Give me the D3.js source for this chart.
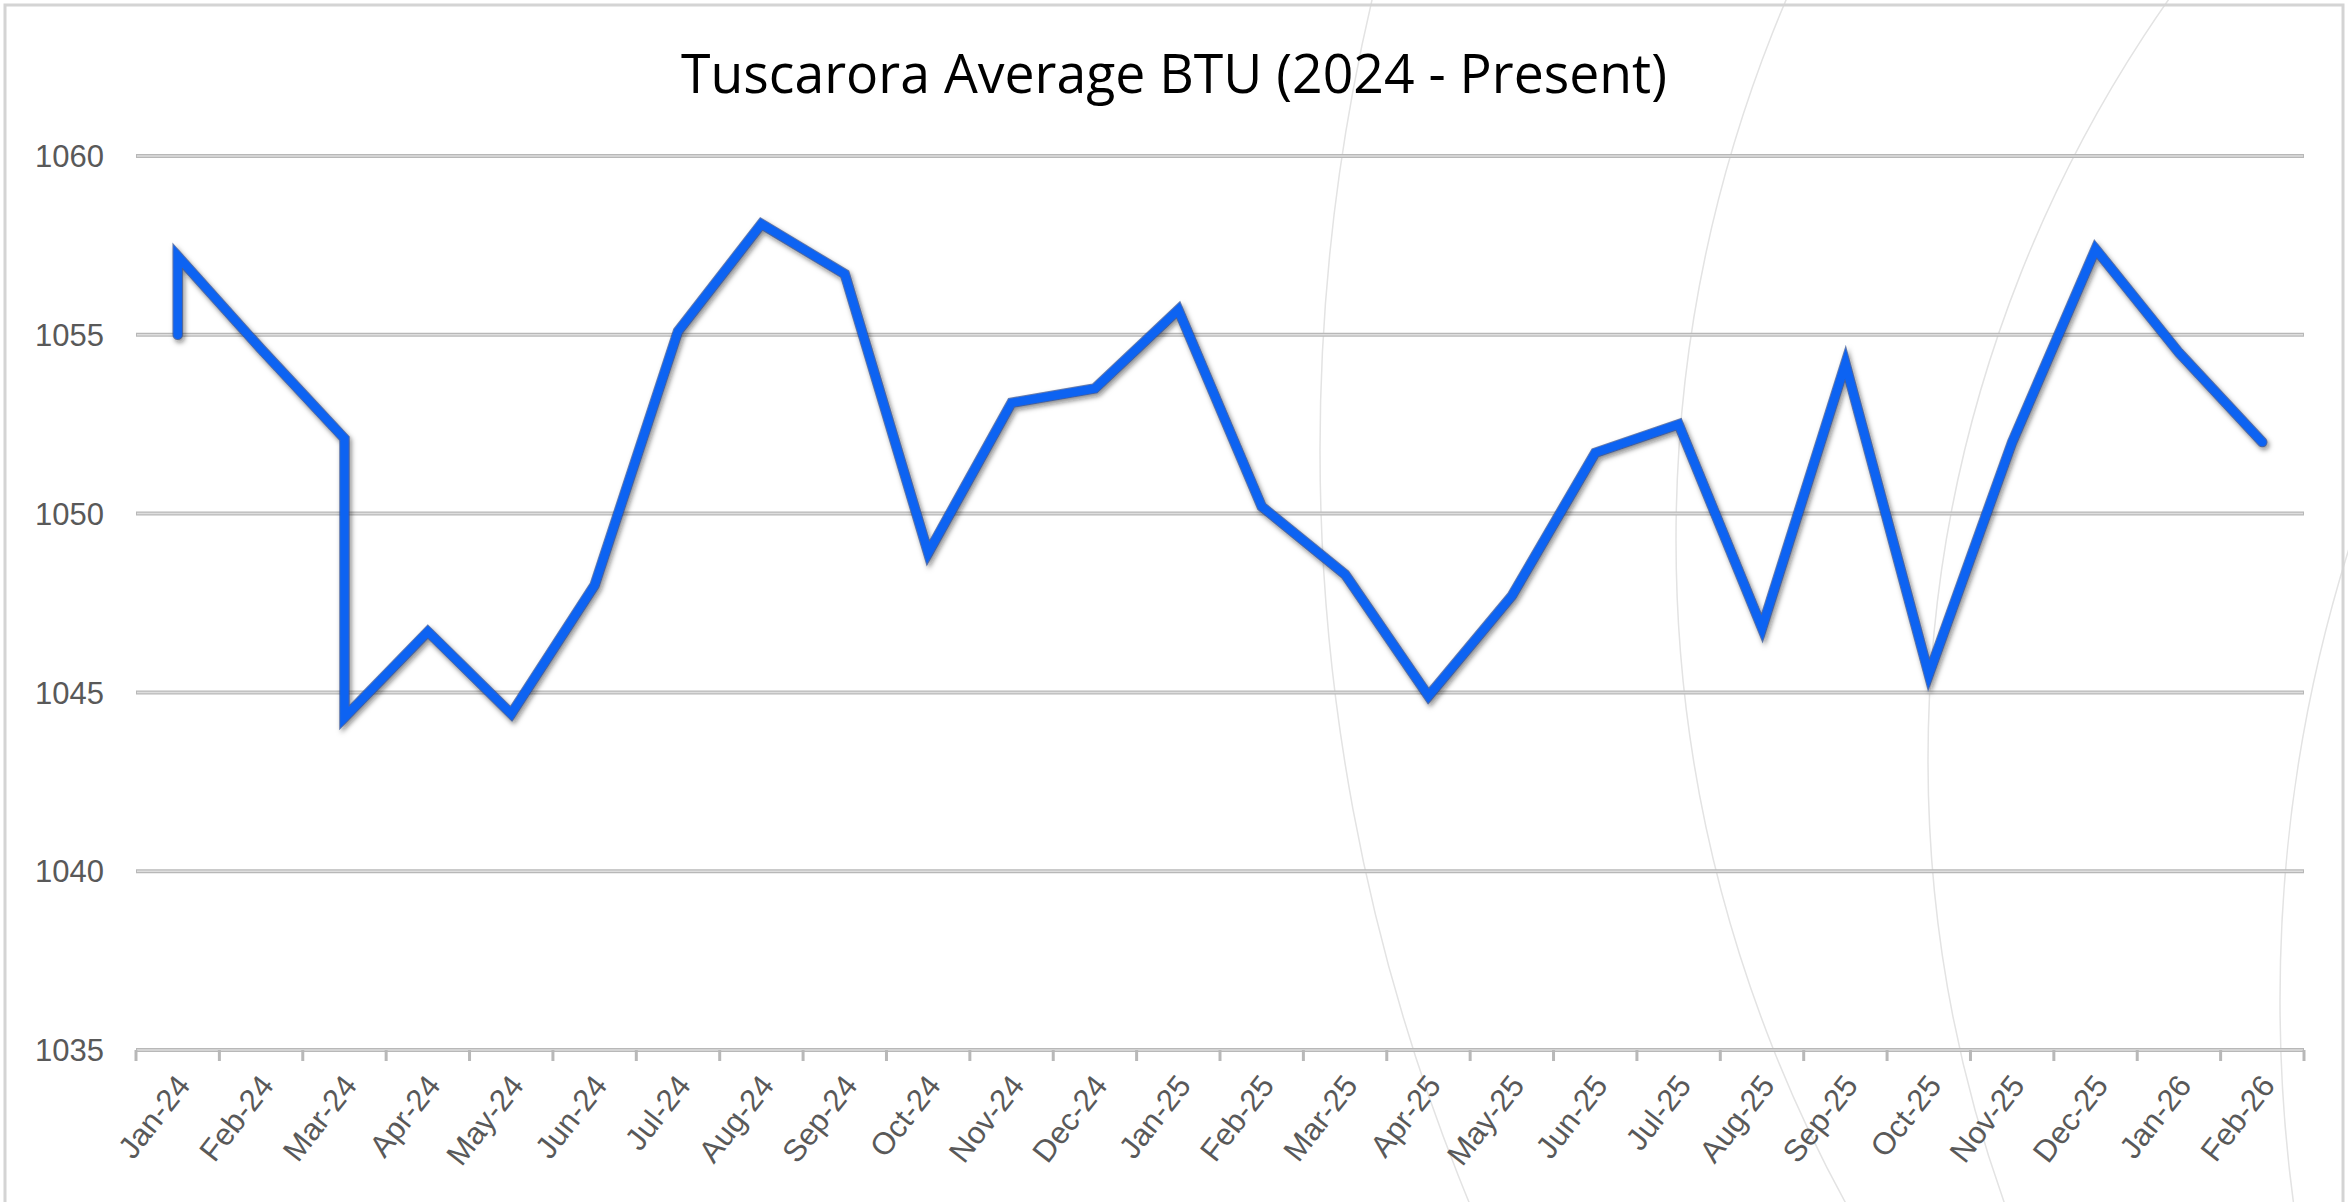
<!DOCTYPE html>
<html>
<head>
<meta charset="utf-8">
<script src="https://cdn.jsdelivr.net/npm/d3@7"></script>
<style>
  html, body { margin: 0; padding: 0; background: #fff; }
  svg { display: block; }
  .title { font-family: "Open Sans", "Noto Sans", sans-serif; fill: #000; }
  .axis-label { font-family: "Liberation Sans", Arial, sans-serif; fill: #595959; }
</style>
</head>
<body>
<svg class="chart"></svg>
<script>
(function () {
  "use strict";

  const TITLE = "Tuscarora Average BTU (2024 - Present)";

  const monthLabels = [
    "Jan-24", "Feb-24", "Mar-24", "Apr-24", "May-24", "Jun-24", "Jul-24", "Aug-24",
    "Sep-24", "Oct-24", "Nov-24", "Dec-24", "Jan-25", "Feb-25", "Mar-25", "Apr-25",
    "May-25", "Jun-25", "Jul-25", "Aug-25", "Sep-25", "Oct-25", "Nov-25", "Dec-25",
    "Jan-26", "Feb-26"
  ];

  // two readings land in Jan-24 and Mar-24, so those months repeat
  const pointMonths = [
    "Jan-24", "Jan-24", "Feb-24", "Mar-24", "Mar-24", "Apr-24", "May-24", "Jun-24",
    "Jul-24", "Aug-24", "Sep-24", "Oct-24", "Nov-24", "Dec-24", "Jan-25", "Feb-25",
    "Mar-25", "Apr-25", "May-25", "Jun-25", "Jul-25", "Aug-25", "Sep-25", "Oct-25",
    "Nov-25", "Dec-25", "Jan-26", "Feb-26"
  ];
  const pointValues = [
    1055.0, 1057.2, 1054.6, 1052.1, 1044.3, 1046.7, 1044.4, 1048.0,
    1055.1, 1058.1, 1056.7, 1048.9, 1053.1, 1053.5, 1055.7, 1050.2,
    1048.3, 1044.9, 1047.7, 1051.7, 1052.5, 1046.8, 1054.2, 1045.5,
    1052.0, 1057.4, 1054.5, 1052.0
  ];

  const yTicks = [1035, 1040, 1045, 1050, 1055, 1060];

  function render() {
    const W = 2348, H = 1202;
    const svg = d3.select(".chart").attr("width", W).attr("height", H);

    const defs = svg.append("defs");
    const shadow = defs.append("filter").attr("id", "lineShadow")
      .attr("x", "-5%").attr("y", "-5%").attr("width", "110%").attr("height", "110%");
    shadow.append("feDropShadow")
      .attr("dx", 2).attr("dy", 3).attr("stdDeviation", 2.5)
      .attr("flood-color", "#111").attr("flood-opacity", 0.5);

    svg.append("rect").attr("width", W).attr("height", H).attr("fill", "#fff");

    // faint decorative arcs of the chart style
    const arcs = [
      { cx: 3293, cy: 450, r: 1973 },
      { cx: 3056, cy: 540, r: 1380 },
      { cx: 3250, cy: 760, r: 1322 },
      { cx: 3790, cy: 1000, r: 1510 }
    ];
    svg.append("g").selectAll("circle").data(arcs).join("circle")
      .attr("cx", d => d.cx).attr("cy", d => d.cy).attr("r", d => d.r)
      .attr("fill", "none").attr("stroke", "#e3e3e3").attr("stroke-width", 1.5);

    // chart border
    svg.append("rect")
      .attr("x", 5).attr("y", 5).attr("width", W - 10).attr("height", H + 20)
      .attr("fill", "none").attr("stroke", "#d4d4d4").attr("stroke-width", 3);

    svg.append("text")
      .attr("class", "title")
      .attr("x", 1174).attr("y", 93)
      .attr("text-anchor", "middle")
      .attr("font-size", 54)
      .attr("textLength", 986)
      .attr("lengthAdjust", "spacingAndGlyphs")
      .text(TITLE);

    const x = d3.scaleBand().domain(monthLabels).range([136, 2304]).padding(0);
    const cx = m => x(m) + x.bandwidth() / 2;
    const y = d3.scaleLinear().domain([1035, 1060]).range([1050, 156]);

    // gridlines
    const grid = svg.append("g");
    grid.selectAll("line.g-out").data(yTicks).join("line")
      .attr("class", "g-out")
      .attr("x1", 136).attr("x2", 2304)
      .attr("y1", d => y(d)).attr("y2", d => y(d))
      .attr("stroke", "#b8b8b8").attr("stroke-width", 4);
    grid.selectAll("line.g-in").data(yTicks).join("line")
      .attr("class", "g-in")
      .attr("x1", 137).attr("x2", 2303)
      .attr("y1", d => y(d)).attr("y2", d => y(d))
      .attr("stroke", "#dedede").attr("stroke-width", 1.5);

    // y labels
    svg.append("g").selectAll("text").data(yTicks).join("text")
      .attr("class", "axis-label")
      .attr("x", 104).attr("y", d => y(d))
      .attr("dy", "0.36em")
      .attr("text-anchor", "end")
      .attr("font-size", 31)
      .text(d => d);

    // x ticks at category boundaries
    const bounds = monthLabels.map(m => x(m)).concat([x.range()[1]]);
    svg.append("g").selectAll("line").data(bounds).join("line")
      .attr("x1", d => d).attr("x2", d => d)
      .attr("y1", y(1035)).attr("y2", y(1035) + 11)
      .attr("stroke", "#b8b8b8").attr("stroke-width", 3);

    // x labels
    svg.append("g").selectAll("text").data(monthLabels).join("text")
      .attr("class", "axis-label")
      .attr("font-size", 31)
      .attr("text-anchor", "end")
      .attr("transform", d => `translate(${cx(d) + 14},${y(1035) + 36}) rotate(-52)`)
      .text(d => d);

    const points = pointMonths.map((m, i) => ({ month: m, value: pointValues[i] }));
    const line = d3.line().x(d => cx(d.month)).y(d => y(d.value));

    const series = svg.append("g").attr("filter", "url(#lineShadow)");
    series.append("path")
      .datum(points)
      .attr("d", line)
      .attr("fill", "none")
      .attr("stroke", "#27478f")
      .attr("stroke-opacity", 0.7)
      .attr("stroke-width", 10.5)
      .attr("stroke-linejoin", "miter")
      .attr("stroke-linecap", "round");
    series.append("path")
      .datum(points)
      .attr("d", line)
      .attr("fill", "none")
      .attr("stroke", "#0f63f2")
      .attr("stroke-width", 8.5)
      .attr("stroke-linejoin", "miter")
      .attr("stroke-linecap", "round");
  }

  render();
})();
</script>
</body>
</html>
